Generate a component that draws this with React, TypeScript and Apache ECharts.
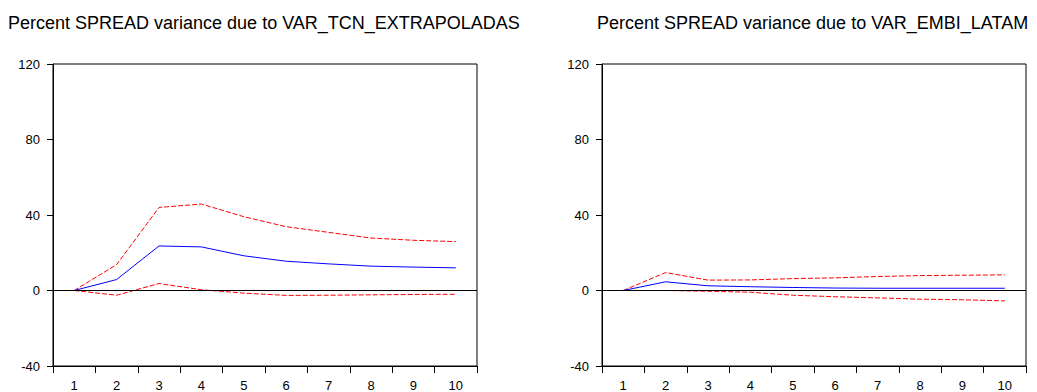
import React, { useEffect, useRef } from "react";
import * as echarts from "echarts";

const periods = ["1", "2", "3", "4", "5", "6", "7", "8", "9", "10"];

const tcnMean = [0, 5.8, 23.6, 23.1, 18.4, 15.5, 14.1, 12.9, 12.4, 12.0];
const tcnUpper = [0, 13.7, 44.0, 45.8, 39.1, 33.8, 30.8, 27.8, 26.6, 25.9];
const tcnLower = [0, -2.5, 3.7, 0.4, -1.4, -2.6, -2.5, -2.3, -2.1, -2.0];

const embiMean = [0, 4.6, 2.5, 2.0, 1.6, 1.3, 1.2, 1.2, 1.2, 1.2];
const embiUpper = [0, 9.5, 5.5, 5.6, 6.3, 6.7, 7.4, 7.9, 8.1, 8.3];
const embiLower = [0, 0, -0.4, -0.9, -2.5, -3.3, -3.9, -4.6, -4.9, -5.5];

const titles = [
  "Percent SPREAD variance due to VAR_TCN_EXTRAPOLADAS",
  "Percent SPREAD variance due to VAR_EMBI_LATAM",
];

const FONT = "Arial, 'Liberation Sans', sans-serif";

export default function App() {
  const ref = useRef<HTMLDivElement>(null);
  useEffect(() => {
    if (!ref.current) return;
    const chart = echarts.init(ref.current, undefined, { renderer: "svg" });
    const grids = [
      { left: 53, top: 64, width: 424, height: 302 },
      { left: 602, top: 64, width: 424, height: 302 },
    ];
    const xAxis = grids.map((_, i) => ({
      type: "category",
      gridIndex: i,
      data: periods,
      boundaryGap: true,
      axisLine: { show: true, onZero: false, lineStyle: { color: "#000", width: 1 } },
      axisTick: { show: true, alignWithLabel: false, length: 7, lineStyle: { color: "#000" } },
      axisLabel: { color: "#000", fontSize: 13, fontFamily: FONT, margin: 13, interval: 0 },
      splitLine: { show: false },
    }));
    const yAxis = grids.map((_, i) => ({
      type: "value",
      gridIndex: i,
      min: -40,
      max: 120,
      interval: 40,
      axisLine: { show: true, lineStyle: { color: "#000", width: 1 } },
      axisTick: { show: true, length: 6, lineStyle: { color: "#000" } },
      axisLabel: { color: "#000", fontSize: 13, fontFamily: FONT, margin: 13 },
      splitLine: { show: false },
    }));
    const mk = (data: number[], idx: number, color: string, dashed: boolean, zero: boolean) => ({
      type: "line",
      xAxisIndex: idx,
      yAxisIndex: idx,
      data,
      symbol: "none",
      lineStyle: { color, width: 1, type: dashed ? [5, 2] : "solid" },
      z: dashed ? 3 : 4,
      ...(zero
        ? {
            markLine: {
              silent: true,
              symbol: "none",
              label: { show: false },
              lineStyle: { color: "#000", width: 1, type: "solid" },
              data: [{ yAxis: 0 }],
            },
          }
        : {}),
    });
    chart.setOption({
      animation: false,
      backgroundColor: "#fff",
      title: [
        {
          text: titles[0],
          left: 3,
          top: 9,
          textStyle: { fontSize: 18, fontWeight: "normal", color: "#000", fontFamily: FONT },
        },
        {
          text: titles[1],
          left: 592,
          top: 9,
          textStyle: { fontSize: 18, fontWeight: "normal", color: "#000", fontFamily: FONT },
        },
      ],
      grid: grids.map((g) => ({ ...g, show: true, borderColor: "#000", borderWidth: 1, backgroundColor: "transparent" })),
      xAxis,
      yAxis,
      series: [
        mk(tcnUpper, 0, "#ff0000", true, true),
        mk(tcnLower, 0, "#ff0000", true, false),
        mk(tcnMean, 0, "#0000ff", false, false),
        mk(embiUpper, 1, "#ff0000", true, true),
        mk(embiLower, 1, "#ff0000", true, false),
        mk(embiMean, 1, "#0000ff", false, false),
      ],
    });
    return () => chart.dispose();
  }, []);
  return (
    <div
      ref={ref}
      style={{ position: "fixed", left: 0, top: 0, width: 1037, height: 392, background: "#fff" }}
    />
  );
}
